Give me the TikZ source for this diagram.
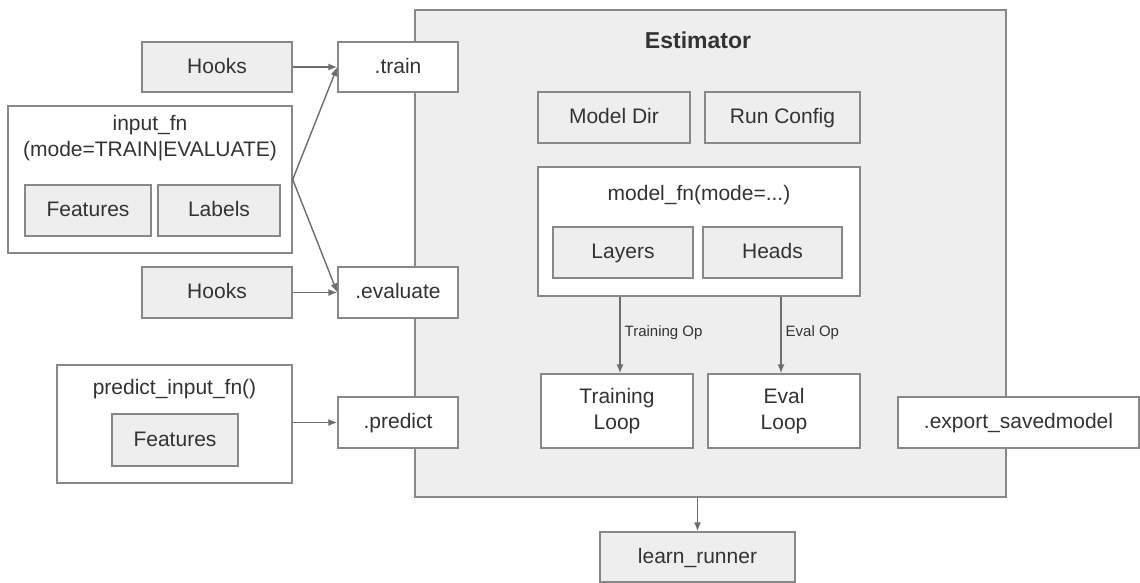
\documentclass[tikz,border=0pt]{standalone}
\usepackage{fontspec}
\setmainfont{Liberation Sans}
\usetikzlibrary{arrows.meta,positioning}
\definecolor{boxline}{HTML}{888888}
\definecolor{boxfill}{HTML}{EEEEEE}
\definecolor{textgray}{HTML}{333333}
\tikzset{
  box/.style={draw=boxline, line width=0.7pt, text=textgray, align=center,
    inner sep=0pt, text height=1.6ex, text depth=0.4ex, font=\fontsize{10.5}{13}\selectfont},
  graybox/.style={box, fill=boxfill},
  whitebox/.style={box, fill=white},
  loopbox/.style={whitebox, text height=, text depth=},
  arr/.style={draw=boxline!80!black, line width=0.7pt, -{Latex[length=4.5pt,width=3.5pt]}},
  oplabel/.style={text=textgray, font=\fontsize{7.5}{9}\selectfont, right, inner sep=2pt},
}

\begin{document}
\begin{tikzpicture}[x=0.5pt,y=-0.5pt]
    \useasboundingbox (0,0) rectangle (1140,583);

    % the Estimator block
    \node[graybox, minimum width=295.5pt, minimum height=243.5pt] (est) at (710.5,253.5) {};
    \node[text=textgray, font=\bfseries\fontsize{11.5}{14}\selectfont] (esttitle) at (698,40) {Estimator};
    \node[graybox, minimum width=76pt, minimum height=25.5pt] (modeldir) at (614,117.5) {Model Dir};
    \node[graybox, minimum width=77.5pt, minimum height=25.5pt] (runconfig) at (782.5,117.5) {Run Config};

    \node[whitebox, minimum width=161pt, minimum height=64.5pt] (modelfn) at (699,231.5) {};
    \node[text=textgray, font=\fontsize{10.5}{13}\selectfont] (modelfntitle) at (699,195) {model\_fn(mode=...)};
    \node[graybox, minimum width=70pt, minimum height=25.5pt] (layers) at (623,252.5) {Layers};
    \node[graybox, minimum width=69.5pt, minimum height=25.5pt] (heads) at (772.5,252.5) {Heads};

    \node[loopbox, minimum width=76pt, minimum height=37pt] (trainloop) at (617,411) {Training\\Loop};
    \node[loopbox, minimum width=76pt, minimum height=37pt] (evalloop) at (784,411) {Eval\\Loop};

    % the calls on the left
    \node[whitebox, minimum width=60pt, minimum height=25pt] (train) at (398,67) {.train};
    \node[whitebox, minimum width=60pt, minimum height=25.5pt] (evaluate) at (398,292.5) {.evaluate};
    \node[whitebox, minimum width=60pt, minimum height=25.5pt] (predict) at (398,422.5) {.predict};
    \node[whitebox, minimum width=120.5pt, minimum height=25.5pt] (export) at (1018.5,422.5) {.export\_savedmodel};

    % inputs
    \node[graybox, minimum width=75pt, minimum height=25pt] (hooksa) at (217,67) {Hooks};
    \node[graybox, minimum width=75pt, minimum height=25.5pt] (hooksb) at (217,292.5) {Hooks};

    \node[whitebox, minimum width=142pt, minimum height=73.5pt] (inputfn) at (150,179.5) {};
    \node[text=textgray, align=center, font=\fontsize{10.5}{13}\selectfont] (inputfntitle) at (150,138) {input\_fn\\(mode=TRAIN|EVALUATE)};
    \node[graybox, minimum width=63pt, minimum height=25.5pt] (featuresa) at (88,210.5) {Features};
    \node[graybox, minimum width=61pt, minimum height=25.5pt] (labels) at (219,210.5) {Labels};

    \node[whitebox, minimum width=117.5pt, minimum height=59pt] (predictfn) at (174.5,424) {};
    \node[text=textgray, font=\fontsize{10.5}{13}\selectfont] (predictfntitle) at (174.5,389) {predict\_input\_fn()};
    \node[graybox, minimum width=63pt, minimum height=26pt] (featuresb) at (175,440) {Features};

    \node[graybox, minimum width=97.5pt, minimum height=25pt] (learn) at (697.5,557) {learn\_runner};

    % connectors
    \draw[arr] (hooksa) -- (train);
    \draw[arr] (inputfn.east) -- (train.west);
    \draw[arr] (inputfn.east) -- (evaluate.west);
    \draw[arr] (hooksb) -- (evaluate);
    \draw[arr] (predictfn.east |- predict.west) -- (predict.west);
    \draw[arr] (modelfn.south -| 620,0) -- (trainloop.north -| 620,0) node[oplabel, pos=0.47] {Training Op};
    \draw[arr] (modelfn.south -| 781,0) -- (evalloop.north -| 781,0) node[oplabel, pos=0.47] {Eval Op};
    \draw[arr] (est.south -| learn.north) -- (learn.north);
\end{tikzpicture}
\end{document}
